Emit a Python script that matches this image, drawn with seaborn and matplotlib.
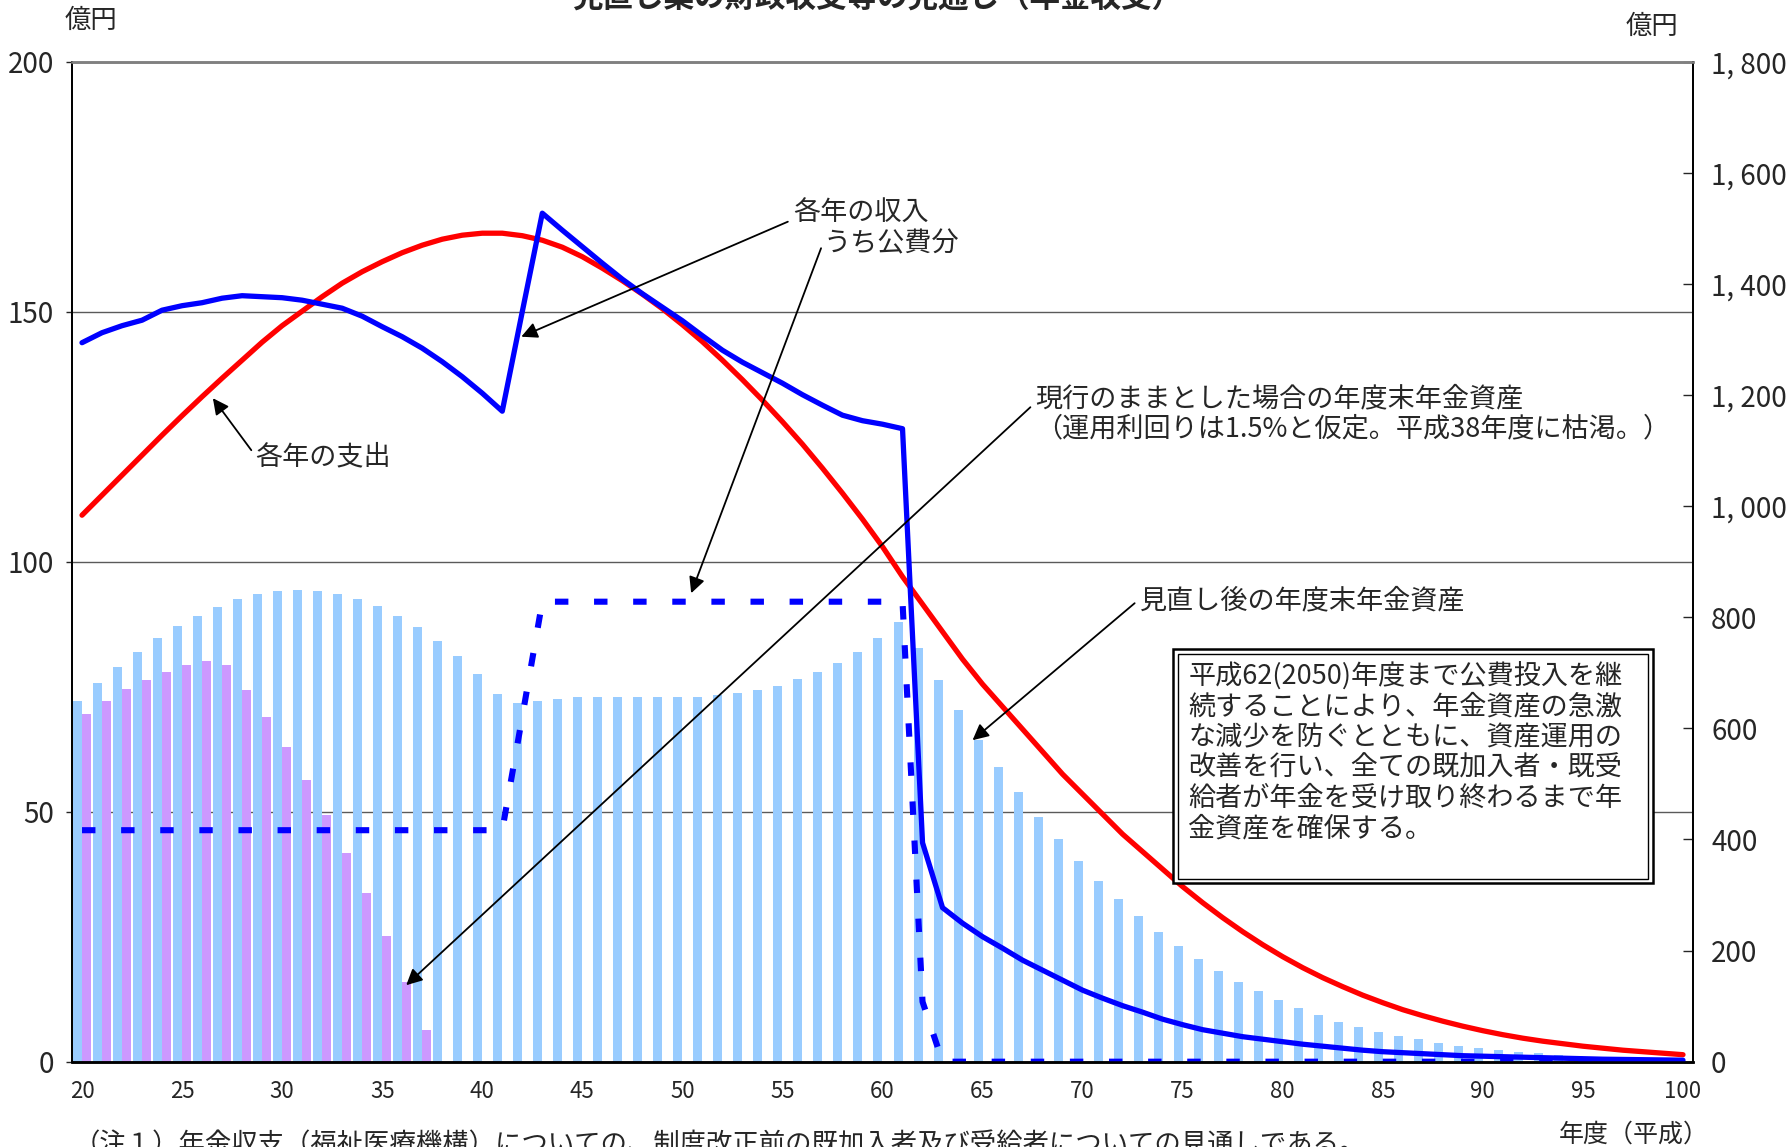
import numpy as np
import pandas as pd
import matplotlib
matplotlib.use("Agg")
import matplotlib.pyplot as plt
import seaborn as sns
from matplotlib import font_manager
from matplotlib.patches import Rectangle

# ---------------- data ----------------
years = list(range(20, 101))

expenditure = [109.3, 113.3, 117.3, 121.3, 125.3, 129.2, 133.0, 136.7, 140.3, 143.9,
               147.2, 150.1, 153.0, 155.7, 158.0, 160.0, 161.8, 163.3, 164.5, 165.3,
               165.7, 165.7, 165.2, 164.3, 162.9, 161.0, 158.7, 156.2, 153.5, 150.6,
               147.4, 144.0, 140.3, 136.4, 132.3, 128.0, 123.5, 118.7, 113.7, 108.5,
               103.0, 97.0, 91.5, 86.0, 80.5, 75.5, 71.0, 66.5, 62.0, 57.5,
               53.5, 49.5, 45.5, 42.0, 38.5, 35.0, 31.8, 28.8, 26.0, 23.4,
               21.0, 18.8, 16.8, 15.0, 13.3, 11.8, 10.4, 9.2, 8.1, 7.1,
               6.2, 5.4, 4.7, 4.1, 3.6, 3.1, 2.7, 2.3, 2.0, 1.7, 1.4]

income = [143.8, 145.8, 147.2, 148.3, 150.3, 151.2, 151.8, 152.7, 153.2, 153.0,
          152.8, 152.3, 151.5, 150.7, 149.1, 147.0, 145.0, 142.7, 140.0, 137.0,
          133.7, 130.1, 150.0, 169.7, 166.3, 163.0, 159.7, 156.5, 153.6, 150.9,
          148.2, 145.2, 142.3, 139.9, 137.8, 135.7, 133.4, 131.3, 129.3, 128.2,
          127.5, 126.6, 43.8, 30.8, 27.7, 25.0, 22.7, 20.3, 18.3, 16.3,
          14.3, 12.7, 11.2, 9.9, 8.5, 7.4, 6.4, 5.7, 5.0, 4.5,
          4.0, 3.5, 3.1, 2.7, 2.3, 2.0, 1.8, 1.6, 1.4, 1.2,
          1.1, 1.0, 0.9, 0.8, 0.7, 0.6, 0.5, 0.45, 0.4, 0.35, 0.3]

public = ([46.3] * 22) + [69.0] + ([92.0] * 19) + [12.0] + ([0.0] * 38)

assets_revised = [649, 681, 711, 737, 763, 784, 803, 818, 833, 842,
                  847, 849, 847, 842, 833, 820, 803, 782, 757, 730,
                  697, 662, 645, 650, 653, 656, 656, 657, 657, 657,
                  657, 657, 660, 663, 669, 677, 688, 701, 717, 738,
                  763, 792, 744, 687, 633, 579, 531, 485, 441, 400,
                  361, 326, 292, 262, 234, 208, 185, 163, 144, 127,
                  111, 96, 84, 72, 62, 54, 46, 40, 34, 29,
                  25, 21, 18, 15, 12, 10, 8, 6, 5, 3, 2]

current_years = list(range(20, 38))
assets_current = [626, 649, 671, 687, 701, 714, 721, 714, 669, 621,
                  566, 507, 444, 376, 304, 226, 144, 57]

left_ticks = [0, 50, 100, 150, 200]
right_ticks = [0, 200, 400, 600, 800, 1000, 1200, 1400, 1600, 1800]
right_tick_labels = ["0", "200", "400", "600", "800", "1, 000", "1, 200", "1, 400", "1, 600", "1, 800"]
x_ticks = list(range(20, 101, 5))

box_lines = ["平成62(2050)年度まで公費投入を継",
             "続することにより、年金資産の急激",
             "な減少を防ぐとともに、資産運用の",
             "改善を行い、全ての既加入者・既受",
             "給者が年金を受け取り終わるまで年",
             "金資産を確保する。"]

# ---------------- style ----------------
sns.set_style("white")
plt.rcParams["font.family"] = ["Noto Sans CJK JP", "DejaVu Sans"]
names = {f.name for f in font_manager.fontManager.ttflist}
NUM = "Liberation Sans Narrow" if "Liberation Sans Narrow" in names else "Noto Sans CJK JP"

W, H = 1786, 1147
fig = plt.figure(figsize=(W / 100, H / 100), dpi=100)
rect = [72 / W, 1 - 1061.7 / H, (1693 - 72) / W, 1000 / H]
ax = fig.add_axes(rect)
ax2 = ax.twinx()
ax.set_zorder(3)
ax2.set_zorder(1)
ax.patch.set_visible(False)

# bars (right axis)
bars_df = pd.concat([
    pd.DataFrame({"年度": years, "資産": assets_revised, "系列": "見直し後"}),
    pd.DataFrame({"年度": current_years, "資産": assets_current, "系列": "現行"}),
], ignore_index=True)
sns.barplot(data=bars_df, x="年度", y="資産", hue="系列", hue_order=["見直し後", "現行"],
            palette={"見直し後": "#99CCFF", "現行": "#CC99FF"}, saturation=1,
            native_scale=True, width=0.9, dodge=True, errorbar=None, legend=False,
            linewidth=0, edgecolor="none", ax=ax2)

for v in left_ticks[1:]:
    ax2.axhline(v * 9, color="#5a5a5a", lw=1.0, zorder=0)

# lines (left axis)
sns.lineplot(x=years, y=expenditure, ax=ax, color="#FF0000", linewidth=3.8)
sns.lineplot(x=years, y=income, ax=ax, color="#0000FF", linewidth=3.8)
sns.lineplot(x=years, y=public, ax=ax, color="#0000FF", linewidth=4.4)
ln = ax.lines[-1]
ln.set_linestyle((0, (2.2, 4.2)))
ln.set_dash_capstyle("butt")

# axes limits / ticks
ax.set_xlim(19.5, 100.5)
ax.set_ylim(0, 200)
ax2.set_ylim(0, 1800)

ax.set_yticks(left_ticks)
ax.set_yticklabels([str(v) for v in left_ticks], fontfamily=NUM, fontsize=20)
ax.tick_params(axis="y", direction="out", length=4, width=1, pad=9)

ax.set_xticks(x_ticks)
ax.set_xticklabels([str(v) for v in x_ticks], fontfamily=NUM, fontsize=16)
ax.tick_params(axis="x", which="major", length=0, pad=13)
ax.set_xticks(np.arange(20.5, 100.5, 1.0), minor=True)
ax.tick_params(axis="x", which="minor", direction="in", length=6, width=1, color="black")

ax2.set_yticks(right_ticks)
ax2.set_yticklabels(right_tick_labels, fontfamily=NUM, fontsize=20)
ax2.tick_params(axis="y", direction="in", length=7, width=1, pad=13)

for a in (ax, ax2):
    a.set_xlabel("")
    a.set_ylabel("")
    for s in ("left", "right"):
        a.spines[s].set_color("black")
        a.spines[s].set_linewidth(1.3)
    a.spines["bottom"].set_color("black")
    a.spines["bottom"].set_linewidth(1.8)
    a.spines["top"].set_color("#808080")
    a.spines["top"].set_linewidth(1.8)

# annotations
FS = 19.5
ax.text(55.54, 169.7, "各年の収入", fontsize=FS, ha="left", va="center")
ax.text(57.05, 163.6, "うち公費分", fontsize=FS, ha="left", va="center")
ax.text(28.68, 120.9, "各年の支出", fontsize=FS, ha="left", va="center")
ax.text(67.64, 132.5, "現行のままとした場合の年度末年金資産", fontsize=FS, ha="left", va="center")
ax.text(67.64, 126.5, "（運用利回りは1.5%と仮定。平成38年度に枯渇。）", fontsize=FS, ha="left", va="center")
ax.text(72.88, 92.1, "見直し後の年度末年金資産", fontsize=FS, ha="left", va="center")

arrow_kw = dict(arrowstyle="-|>", color="black", lw=1.3, mutation_scale=24, shrinkA=0, shrinkB=0)
for start, tip in [((55.27, 168.0), (41.95, 145.0)),
                   ((56.93, 162.7), (50.44, 93.7)),
                   ((28.46, 122.3), (26.54, 132.7)),
                   ((67.39, 130.9), (36.2, 15.3)),
                   ((72.6, 91.7), (64.5, 64.3))]:
    ax.annotate("", xy=tip, xytext=start, arrowprops=arrow_kw, zorder=5)

# text box with double border
ax.add_patch(Rectangle((74.53, 35.7), 23.97, 46.8, facecolor="white", edgecolor="black",
                       lw=1.8, zorder=6))
ax.add_patch(Rectangle((74.78, 36.6), 23.47, 44.9, facecolor="none", edgecolor="black",
                       lw=1.0, zorder=7))
for i, line in enumerate(box_lines):
    ax.text(75.28, 77.0 - 6.1 * i, line, fontsize=FS, ha="left", va="center", zorder=8)

# figure texts
fig.text(91 / W, 1 - 20.5 / H, "億円", fontsize=19, ha="center", va="center")
fig.text(1651.5 / W, 1 - 26 / H, "億円", fontsize=19, ha="center", va="center")
fig.text(1634 / W, 1 - 1135 / H, "年度（平成）", fontsize=18, ha="center", va="center")
fig.text(877 / W, 1 + 2 / H, "見直し案の財政収支等の見通し（年金収支）", fontsize=22,
         fontweight="bold", ha="center", va="center")
fig.text(74 / W, 1 - 1131 / H,
         "（注１）年金収支（福祉医療機構）についての、制度改正前の既加入者及び受給者についての見通しである。",
         fontsize=19, ha="left", va="top")

fig.savefig("out.png", dpi=100)
